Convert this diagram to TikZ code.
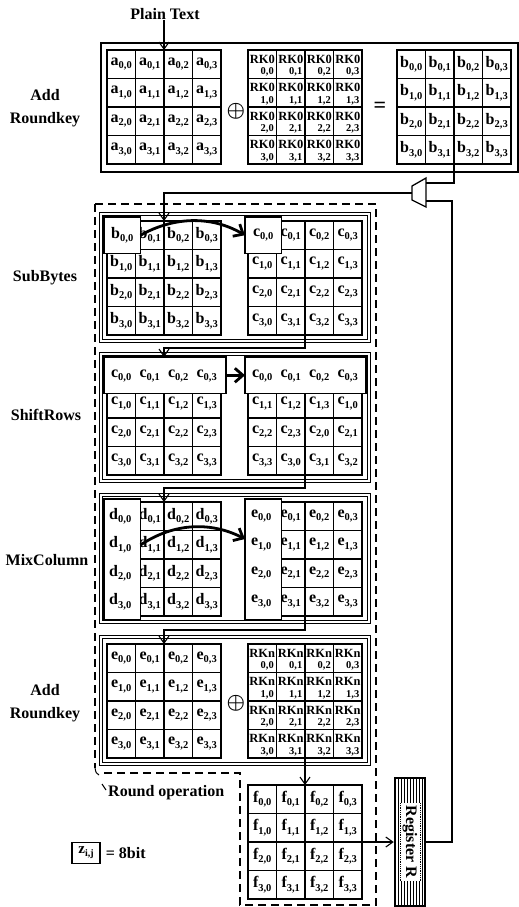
\documentclass[tikz,border=0pt]{standalone}
\usepackage{amsmath}
\usepackage{fontspec}
\setmainfont{Liberation Serif}
\usetikzlibrary{arrows.meta,calc}
\newcommand\cellt[3]{{\fontsize{16}{16}\selectfont\bfseries #1}\raisebox{-3.5pt}{\fontsize{10.5}{10.5}\selectfont\bfseries #2,#3}}
% #1 name, #2 cx, #3 cy, #4 letter, #5 row shift, #6 skip mode (0 none,1 cell00,2 row0,3 col0)
\newcommand\mkgrid[6]{%
  \node[gridbox] (#1) at (#2,#3) {};
  \foreach \ri in {0,...,3}{\foreach \ci in {0,...,3}{%
    \pgfmathtruncatemacro\jj{mod(\ci+#5*\ri,4)}%
    \pgfmathtruncatemacro\sk{or(and(#6==1,and(\ri==0,\ci==0)),or(and(#6==2,\ri==0),and(#6==3,\ci==0)))}%
    \node[cellbox] (#1-\ri-\ci) at ($(#1.north west)+(14.25+28.5*\ci,14.25+28.5*\ri)$) {\ifnum\sk=0 \cellt{#4}{\ri}{\jj}\fi};
  }}%
  \draw[line width=1.6pt] (#1.north) -- (#1.south);
}
\newcommand\mkrk[4]{%
  \node[gridbox] (#1) at (#2,#3) {};
  \foreach \ri in {0,...,3}{\foreach \ci in {0,...,3}{%
    \node[cellbox] (#1-\ri-\ci) at ($(#1.north west)+(14.25+28.5*\ci,14.25+28.5*\ri)$) {};
    \node[rkt] (#1-\ri-\ci-k) at ($(#1-\ri-\ci.center)+(0,-5)$) {#4};
    \node[rks,anchor=south east] (#1-\ri-\ci-s) at ($(#1-\ri-\ci.south east)+(-2.5,-2)$) {\ri,\ci};
  }}%
}
\begin{document}
\begin{tikzpicture}[x=1pt,y=-1pt,
  gridbox/.style={minimum width=114pt,minimum height=114pt,inner sep=0pt,outer sep=0pt},
  cellbox/.style={draw,line width=1.1pt,minimum width=28.5pt,minimum height=28.5pt,inner sep=0pt,outer sep=0pt},
  hlbox/.style={draw,fill=white,line width=1.2pt,inner sep=0pt,outer sep=0pt},
  lbl/.style={font=\fontsize{16}{23}\selectfont\bfseries,align=center,inner sep=0pt},
  stagebox/.style={draw,line width=0.8pt,double,double distance=1.6pt},
  conn/.style={line width=1.1pt},
  arr/.style={line width=1.1pt,-{Straight Barb[length=7pt,width=10pt]}},
  bigarr/.style={line width=2.8pt,-{Straight Barb[length=8pt,width=14pt]}},
  rkt/.style={font=\fontsize{12.5}{12.5}\selectfont\bfseries,inner sep=0pt},
  rks/.style={font=\fontsize{10.5}{10.5}\selectfont\bfseries,inner sep=0pt},
  dashbox/.style={line width=1.1pt,dash pattern=on 8pt off 5pt},
]
\useasboundingbox (0,0) rectangle (519,907);

% ---------- labels on the left ----------
\node[lbl] (plain) at (165,14) {Plain Text};
\node[lbl] (l-ark1) at (45,108) {Add\\Roundkey};
\node[lbl] (l-sub) at (45,278) {SubBytes};
\node[lbl] (l-shift) at (46,415) {ShiftRows};
\node[lbl] (l-mix) at (47,560) {MixColumn};
\node[lbl] (l-ark2) at (45,703) {Add\\Roundkey};

% ---------- top Add Roundkey ----------
\draw[line width=1.5pt] (101,43) rectangle (518,172);
\mkgrid{gA}{164}{107}{a}{0}{0}
\mkrk{gK0}{305}{107}{RK0}
\mkgrid{gB}{454}{107}{b}{0}{0}
\node (x1) at (236,111) {\fontsize{22}{22}\selectfont$\boldsymbol{\oplus}$};
\node[lbl,font=\fontsize{22}{22}\selectfont\bfseries] (eq1) at (380,107) {=};
\draw[arr] (plain.south -| gA.north) -- (gA.north);

% ---------- stage boxes ----------
\draw[stagebox] (101,214) rectangle (369,341);
\draw[stagebox] (101,354) rectangle (369,481);
\draw[stagebox] (101,495) rectangle (369,622);
\draw[stagebox] (101,637) rectangle (369,764);

% SubBytes
\mkgrid{gS1}{164}{278}{b}{0}{1}
\mkgrid{gS2}{305}{278}{c}{0}{1}
\node[hlbox,minimum width=36.5pt,minimum height=36.5pt] (hb) at (122.25,235.25) {\cellt{b}{0}{0}};
\node[hlbox,minimum width=36.5pt,minimum height=36.5pt] (hc) at (263.25,235.25) {\cellt{c}{0}{0}};
\draw[bigarr] (hb.east) .. controls (175,216) and (212,216) .. (hc.west);

% ShiftRows
\mkgrid{gR1}{164}{418}{c}{0}{2}
\mkgrid{gR2}{305}{418}{c}{1}{2}
\node[hlbox,minimum width=122pt,minimum height=36.5pt] (hr1) at (165,375.25) {};
\node[hlbox,minimum width=121pt,minimum height=36.5pt] (hr2) at (305.5,375.25) {};
\foreach \ci in {0,...,3}{
  \node (tr1-\ci) at ($(gR1-0-\ci)+(0,1)$) {\cellt{c}{0}{\ci}};
  \node (tr2-\ci) at ($(gR2-0-\ci)+(0,1)$) {\cellt{c}{0}{\ci}};
}
\draw[bigarr] (hr1.east) -- (hr2.west);

% MixColumn
\mkgrid{gM1}{164}{559}{d}{0}{3}
\mkgrid{gM2}{305}{559}{e}{0}{3}
\node[hlbox,minimum width=36.5pt,minimum height=121pt] (hd) at (122.25,559.5) {};
\node[hlbox,minimum width=36.5pt,minimum height=121pt] (he) at (263.25,559.5) {};
\foreach \ri in {0,...,3}{
  \node (td-\ri) at ($(gM1-\ri-0)+(-1,0)$) {\cellt{d}{\ri}{0}};
  \node (te-\ri) at ($(gM2-\ri-0)+(-1,0)$) {\cellt{e}{\ri}{0}};
}
\coordinate (md1) at ($(hd.east)+(0,-14.5)$);
\coordinate (md2) at ($(he.west)+(0,-20.5)$);
\draw[bigarr] (md1) .. controls (175,522) and (212,522) .. (md2);

% Add Roundkey (round n)
\mkgrid{gE}{164}{701}{e}{0}{0}
\mkrk{gKn}{305}{701}{RKn}
\node (x2) at (236,703) {\fontsize{22}{22}\selectfont$\boldsymbol{\oplus}$};

% output state
\mkgrid{gF}{305}{842}{f}{0}{0}

% ---------- multiplexer ----------
\draw[line width=1.3pt] (426,178) -- (426,207) -- (412,200) -- (412,186) -- cycle;
\coordinate (mi1) at (426,183);
\coordinate (mi2) at (426,201);
\coordinate (mo) at (412,193);

% ---------- register ----------
\foreach \x in {398,401,...,422} \draw[line width=0.8pt] (\x,779) -- (\x,906);
\fill[white] (400,803) rectangle (420,881);
\draw[densely dotted,line width=0.8pt] (400,803) -- (400,881) (420,803) -- (420,881);
\node[draw,line width=2.5pt,minimum width=30pt,minimum height=128pt,inner sep=0pt] (reg) at (410,842) {};
\node[rotate=-90,font=\fontsize{16}{16}\selectfont\bfseries] (regtxt) at (410,842) {Register R};

% ---------- connectors ----------
\draw[conn] (gB.south) |- (mi1);
\draw[arr] (mo) -| (gS1.north);
\draw[arr] (gS2.south) -- ++(0,13) -| (gR1.north |- hr1.north);
\draw[arr] (gR2.south) -- ++(0,13) -| (gM1.north);
\draw[arr] (gM2.south) -- ++(0,14) -| (gE.north);
\draw[arr] (gKn.south) -- (gF.north);
\draw[arr] (gF.east) -- (reg.west);
\coordinate (rt) at (452,201);
\draw[conn] (reg.east) -| (rt) -- (mi2);

% ---------- round operation (dashed) ----------
\draw[dashbox] (95,204) -- (376,204) -- (376,905) -- (240,905) -- (240,773) -- (100,773);
\draw[dashbox] (95,204) -- (95,768);
\draw[line width=1pt] (95,768) .. controls (96,773) .. (99,775);
\draw[line width=1pt] (102,784) -- (106,790);
\node[lbl,anchor=west] (l-round) at (108,793) {Round operation};

% ---------- legend ----------
\node[draw,line width=1.2pt,minimum width=28pt,minimum height=21pt,inner sep=0pt] (zb) at (86,853)
  {{\fontsize{15}{15}\selectfont\bfseries z}\raisebox{-3pt}{\fontsize{10}{10}\selectfont\bfseries i,j}};
\node[lbl,anchor=west] (eq8) at ($(zb.east)+(5,0)$) {= 8bit};
\end{tikzpicture}
\end{document}
